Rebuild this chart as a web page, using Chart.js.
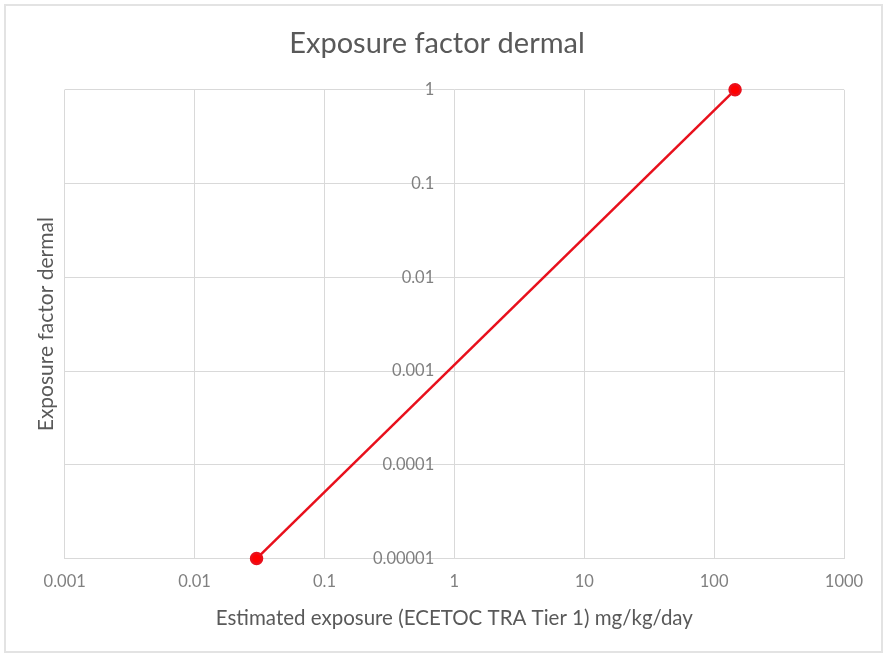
<!DOCTYPE html>
<html>
<head>
<meta charset="utf-8">
<script src="https://cdn.jsdelivr.net/npm/chart.js@4"></script>
<style>
  body { margin: 0; background: #fff; }
  #frame { position: absolute; left: 4px; top: 4px; width: 875px; height: 645px; border: 2px solid #e3e3e3; }
  #wrap { position: absolute; left: 0; top: 0; width: 885px; height: 656px; }
</style>
</head>
<body>
<div id="frame"></div>
<div id="wrap"><canvas id="graphCanvas"></canvas></div>
<script>
// data
var exposure = [0.03, 145];
var factor = [0.00001, 1];
var xTickValues = [0.001, 0.01, 0.1, 1, 10, 100, 1000];
var xTickLabels = ['0.001', '0.01', '0.1', '1', '10', '100', '1000'];
var yTickValues = [0.00001, 0.0001, 0.001, 0.01, 0.1, 1];
var yTickLabels = ['0.00001', '0.0001', '0.001', '0.01', '0.1', '1'];

var points = [];
for (var i in exposure) {
    points.push({x: exposure[i], y: factor[i]});
}

var gridColor = '#d9d9d9';
var tickColor = '#808080';
var textColor = '#595959';
var fontFamily = 'Lato, "Open Sans", sans-serif';

function decadeTicks(values) {
    return function(scale) {
        scale.ticks = values.map(function(v) { return {value: v}; });
    };
}

var graphTarget = document.getElementById('graphCanvas');

var scatterGraph = new Chart(graphTarget, {
    type: 'scatter',
    data: {
        datasets: [{
            label: 'Exposure factor dermal',
            data: points,
            showLine: true,
            borderColor: '#e8101c',
            backgroundColor: '#ff0000',
            borderWidth: 2.5,
            pointRadius: 5.5,
            pointHoverRadius: 5.5,
            clip: false
        }]
    },
    options: {
        responsive: true,
        maintainAspectRatio: false,
        animation: false,
        layout: { padding: { left: 30, right: 41, top: 20, bottom: 25 } },
        plugins: {
            legend: { display: false },
            tooltip: { enabled: false },
            title: {
                display: true,
                text: 'Exposure factor dermal',
                color: textColor,
                font: { family: fontFamily, size: 29, weight: 'normal' },
                padding: { top: 6, bottom: 29 }
            }
        },
        scales: {
            x: {
                type: 'logarithmic',
                position: 'bottom',
                min: 0.001,
                max: 1000,
                afterBuildTicks: decadeTicks(xTickValues),
                ticks: {
                    color: tickColor,
                    font: { family: fontFamily, size: 16.5 },
                    padding: 13,
                    maxRotation: 0,
                    autoSkip: false,
                    callback: function(value, index) { return xTickLabels[index]; }
                },
                grid: { color: gridColor, lineWidth: 1, drawTicks: false },
                border: { color: gridColor },
                title: {
                    display: true,
                    text: 'Estimated exposure (ECETOC TRA Tier 1) mg/kg/day',
                    color: textColor,
                    font: { family: fontFamily, size: 20.5 },
                    padding: { top: 2, bottom: 0 }
                }
            },
            y: {
                type: 'logarithmic',
                // labels sit just left of the x = 1 gridline
                position: { x: 0.7 },
                min: 0.00001,
                max: 1,
                afterBuildTicks: decadeTicks(yTickValues),
                ticks: {
                    color: tickColor,
                    font: { family: fontFamily, size: 16.5 },
                    autoSkip: false,
                    callback: function(value, index) { return yTickLabels[index]; }
                },
                grid: { color: gridColor, lineWidth: 1, drawTicks: false },
                border: { display: false }
            },
            yTitle: {
                type: 'linear',
                position: 'left',
                ticks: { display: false },
                grid: { display: false, drawTicks: false },
                border: { display: false },
                title: {
                    display: true,
                    text: 'Exposure factor dermal',
                    color: textColor,
                    font: { family: fontFamily, size: 21 },
                    padding: { top: 4, bottom: 5.5 }
                }
            }
        }
    }
});
</script>
</body>
</html>
